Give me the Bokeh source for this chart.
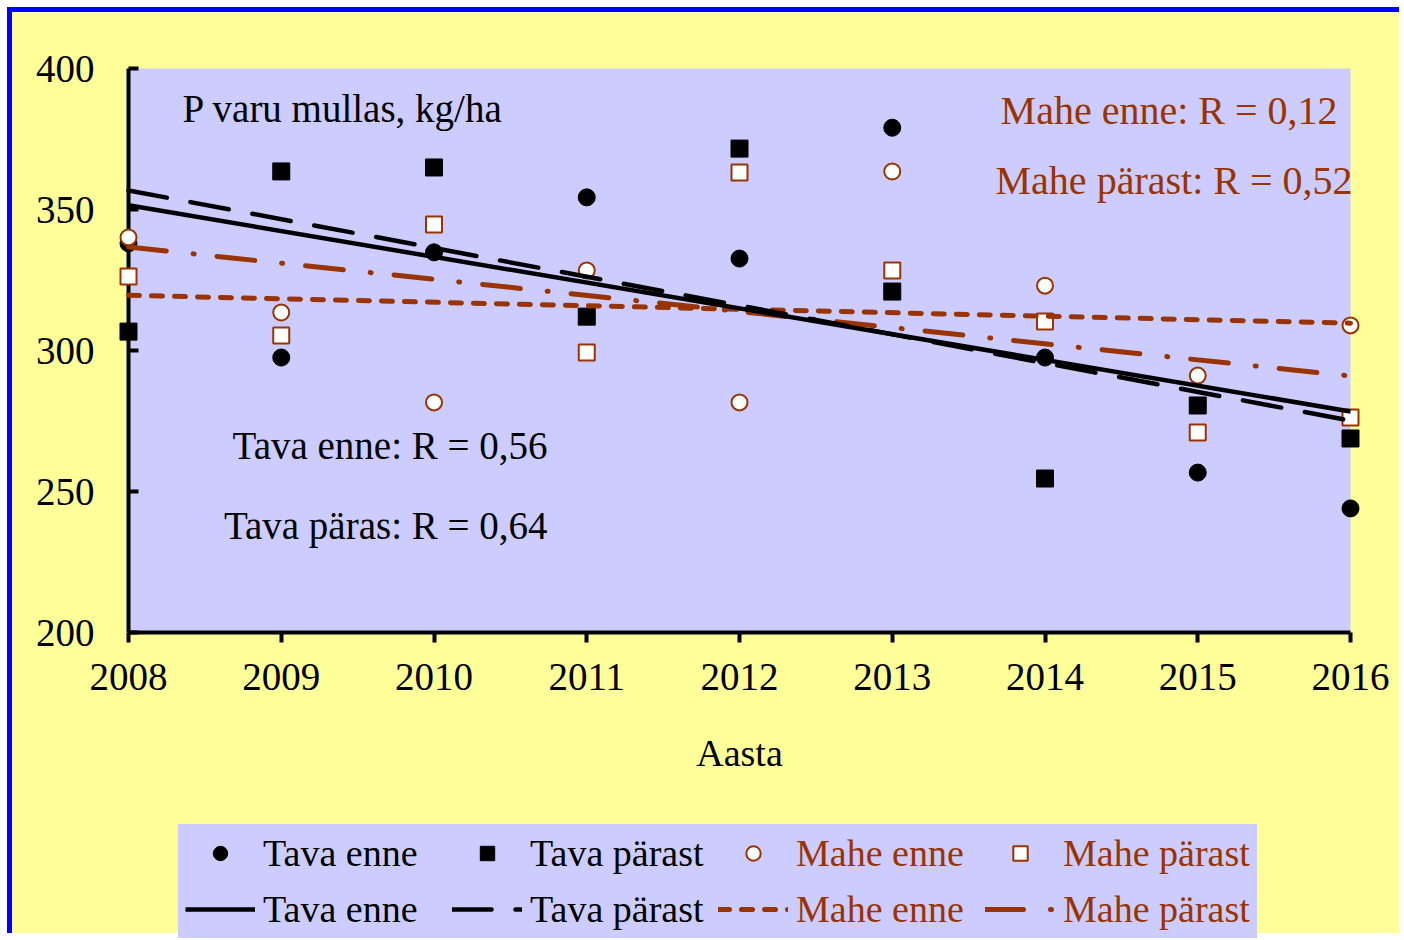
import numpy as np
from bokeh.plotting import figure
from bokeh.models import Range1d, FixedTicker, Legend, LegendItem, Label
from bokeh.embed import file_html
from bokeh.resources import INLINE

# ---- data ----
years = [2008, 2009, 2010, 2011, 2012, 2013, 2014, 2015, 2016]
tava_enne = [338.0, 297.5, 334.8, 354.3, 332.6, 379.0, 297.5, 256.7, 244.0]
tava_parast = [306.7, 363.5, 364.9, 312.0, 371.6, 320.9, 254.6, 280.5, 268.8]
mahe_enne = [340.1, 313.5, 281.6, 328.4, 281.6, 363.5, 323.0, 291.1, 308.9]
mahe_parast = [326.2, 305.3, 344.7, 299.3, 363.1, 328.4, 310.3, 270.9, 276.2]
y_ticks = [200, 250, 300, 350, 400]
series_names = ["Tava enne", "Tava pärast", "Mahe enne", "Mahe pärast"]
title_text = "P varu mullas, kg/ha"
r_texts = ["Tava enne: R = 0,56", "Tava päras: R = 0,64",
           "Mahe enne: R = 0,12", "Mahe pärast: R = 0,52"]
x_label = "Aasta"

BLACK = "#000000"
BROWN = "#993300"
LAV = "#CCCCFF"
YEL = "#FFFF99"
FONT = "Liberation Serif"

# ---- layout (canvas pixels) ----
W, H = 1392, 926
AX_L, AX_R = 116, 1338      # pixel x of 2008 and 2016
AX_T, AX_B = 56, 620        # pixel y of 400 and 200
ppx = (AX_R - AX_L) / (years[-1] - years[0])
ppy = (AX_B - AX_T) / (y_ticks[-1] - y_ticks[0])

# the frame covers the whole canvas; the lavender box marks the chart area
p = figure(width=W, height=H, output_backend="svg", toolbar_location=None,
           x_range=Range1d(years[0] - AX_L / ppx, years[-1] + (W - AX_R) / ppx),
           y_range=Range1d(y_ticks[0] - (H - AX_B) / ppy, y_ticks[-1] + AX_T / ppy),
           min_border=0)
p.styles = {"margin-left": "7px", "margin-top": "7px",
            "border-top": "5px solid #0000FF", "border-left": "5px solid #0000FF"}
p.background_fill_color = YEL
p.border_fill_color = YEL
p.outline_line_color = None
p.grid.visible = False

p.quad(left=[years[0]], right=[years[-1]], bottom=[y_ticks[0]], top=[y_ticks[-1]],
       fill_color=LAV, line_color=None, level="image")

# axes
for ax in (p.xaxis, p.yaxis):
    ax.axis_line_width = 4
    ax.axis_line_color = BLACK
    ax.major_tick_line_width = 4
    ax.major_tick_line_color = BLACK
    ax.minor_tick_line_color = None
    ax.major_label_text_font = FONT
    ax.major_label_text_font_size = "39px"
    ax.major_label_text_color = BLACK

p.xaxis.ticker = FixedTicker(ticks=years)
p.xaxis.bounds = (years[0], years[-1])
p.xaxis.fixed_location = y_ticks[0]
p.xaxis.major_tick_in = 0
p.xaxis.major_tick_out = 10
p.xaxis.major_label_standoff = 21
p.xaxis.axis_label = x_label
p.xaxis.axis_label_text_font = FONT
p.xaxis.axis_label_text_font_size = "38px"
p.xaxis.axis_label_text_font_style = "normal"
p.xaxis.axis_label_text_color = BLACK
p.xaxis.axis_label_standoff = 39

p.yaxis.ticker = FixedTicker(ticks=y_ticks)
p.yaxis.bounds = (y_ticks[0], y_ticks[-1])
p.yaxis.fixed_location = years[0]
p.yaxis.major_tick_in = 10
p.yaxis.major_tick_out = 0
p.yaxis.major_label_standoff = 34

# markers (drawn above the axes)
r_te = p.scatter(years, tava_enne, marker="circle", size=17, fill_color=BLACK,
                 line_color=BLACK, level="overlay")
r_tp = p.scatter(years, tava_parast, marker="square", size=17, fill_color=BLACK,
                 line_color=BLACK, level="overlay")
r_me = p.scatter(years, mahe_enne, marker="circle", size=16, fill_color="white",
                 line_color=BROWN, line_width=2, level="overlay")
r_mp = p.scatter(years, mahe_parast, marker="square", size=16, fill_color="white",
                 line_color=BROWN, line_width=2, level="overlay")

# linear trend lines fitted to each series
def trend(vals):
    k, b = np.polyfit(years, vals, 1)
    xs = [years[0], years[-1]]
    return xs, [k * x + b for x in xs]

xs, ys = trend(mahe_parast)
l_mp = p.line(xs, ys, line_color=BROWN, line_width=5, line_dash="38 27 1 23",
              line_cap="round", level="overlay")
xs, ys = trend(mahe_enne)
l_me = p.line(xs, ys, line_color=BROWN, line_width=5, line_dash="11 12",
              line_cap="round", level="overlay")
xs, ys = trend(tava_parast)
l_tp = p.line(xs, ys, line_color=BLACK, line_width=4.5, line_dash="39 24",
              line_cap="round", level="overlay")
xs, ys = trend(tava_enne)
l_te = p.line(xs, ys, line_color=BLACK, line_width=4.5, level="overlay")

# text annotations
def add_label(x, y, text, align, size, color):
    p.add_layout(Label(x=x, y=y, text=text, text_align=align, text_baseline="middle",
                       text_font=FONT, text_font_size=size, text_color=color))

add_label(2008.354, 385.8, title_text, "left", "39px", BLACK)
add_label(2010.743, 266.3, r_texts[0], "right", "39px", BLACK)
add_label(2010.743, 237.9, r_texts[1], "right", "39px", BLACK)
add_label(2015.915, 385.1, r_texts[2], "right", "40px", BROWN)
add_label(2016.013, 360.3, r_texts[3], "right", "40px", BROWN)

# legends (two, so that label colours can differ); a lavender border acts as padding
def make_legend(items, color, loc):
    return Legend(items=items, orientation="horizontal", ncols=2, location=loc,
                  glyph_width=70, glyph_height=36, label_standoff=8, spacing=12,
                  label_width=177, padding=0, margin=0,
                  border_line_color=LAV, border_line_width=7,
                  background_fill_color=LAV, background_fill_alpha=1.0,
                  label_text_font=FONT, label_text_font_size="38px",
                  label_text_color=color, label_text_baseline="middle")

leg_a = make_legend([LegendItem(label=series_names[0], renderers=[r_te]),
                     LegendItem(label=series_names[1], renderers=[r_tp]),
                     LegendItem(label=series_names[0], renderers=[l_te]),
                     LegendItem(label=series_names[1], renderers=[l_tp])], BLACK, (166, 0))
leg_b = make_legend([LegendItem(label=series_names[2], renderers=[r_me]),
                     LegendItem(label=series_names[3], renderers=[r_mp]),
                     LegendItem(label=series_names[2], renderers=[l_me]),
                     LegendItem(label=series_names[3], renderers=[l_mp])], BROWN, (699, 0))
p.add_layout(leg_a, "center")
p.add_layout(leg_b, "center")

open("out.html", "w").write(file_html(p, INLINE))
